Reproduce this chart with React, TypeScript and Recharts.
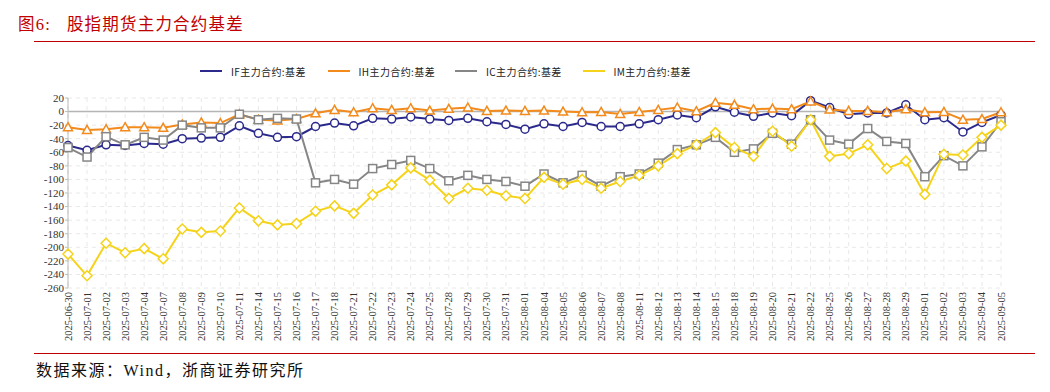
import React from "react";
import {
  LineChart,
  Line,
  XAxis,
  YAxis,
  CartesianGrid,
  ReferenceLine,
} from "recharts";

const dates = [
  "2025-06-30", "2025-07-01", "2025-07-02", "2025-07-03", "2025-07-04", "2025-07-07", "2025-07-08",
  "2025-07-09", "2025-07-10", "2025-07-11", "2025-07-14", "2025-07-15", "2025-07-16", "2025-07-17",
  "2025-07-18", "2025-07-21", "2025-07-22", "2025-07-23", "2025-07-24", "2025-07-25", "2025-07-28",
  "2025-07-29", "2025-07-30", "2025-07-31", "2025-08-01", "2025-08-04", "2025-08-05", "2025-08-06",
  "2025-08-07", "2025-08-08", "2025-08-11", "2025-08-12", "2025-08-13", "2025-08-14", "2025-08-15",
  "2025-08-18", "2025-08-19", "2025-08-20", "2025-08-21", "2025-08-22", "2025-08-25", "2025-08-26",
  "2025-08-27", "2025-08-28", "2025-08-29", "2025-09-01", "2025-09-02", "2025-09-03", "2025-09-04",
  "2025-09-05",
];

const ifBasis = [
  -50, -57, -49, -50, -47, -48, -40, -39, -38, -21, -32, -38, -37, -22, -17, -21,
  -10, -11, -8, -11, -13, -10, -15, -19, -26, -18, -22, -16, -22, -22, -18, -12, -5,
  -9, 7, -1, -7, -2, -6, 16, 6, -4, -2, -2, 10, -12, -9, -30, -16, -5,
];

const ihBasis = [
  -23, -27, -26, -23, -23, -24, -19, -16, -17, -4, -12, -13, -11, -2.5, 2.5, -1,
  5, 2.5, 5, 1.5, 4, 6, 1, 1.5, 1, 1.5, 0, -1, -0.5, -3.5, -0.5, 2.5, 6,
  0.5, 13, 10, 3.5, 4.4, 3.5, 15, 3, 1, 1, -1, 3.5, -1, -0.5, -12, -11, -1,
];

const icBasis = [
  -53, -67, -37, -49, -38, -42, -20, -24, -24, -4, -12, -10, -11, -105, -100, -107,
  -84, -78, -72, -84, -102, -94, -100, -103, -110, -92, -105, -94, -110, -96, -92, -76, -56, -49,
  -38, -60, -55, -32, -48, -12, -42, -48, -25, -44, -47, -96, -65, -80, -52, -15,
];

const imBasis = [
  -210, -242, -194, -208, -202, -217, -173, -178, -176, -142, -161, -167, -165, -147, -139, -150,
  -123, -108, -83, -101, -128, -113, -116, -124, -128, -97, -107, -100, -113, -103, -94, -80, -62, -49,
  -31, -53, -66, -29, -51, -12, -66, -62, -49, -84, -73, -122, -63, -64, -38, -20,
];

const yTicks = [20, 0, -20, -40, -60, -80, -100, -120, -140, -160, -180, -200, -220, -240, -260];

const seriesNames = ["IF主力合约:基差", "IH主力合约:基差", "IC主力合约:基差", "IM主力合约:基差"];
const colors = ["#2b2a8c", "#f28a1c", "#868686", "#f5d31a"];

const data = dates.map((d, i) => ({
  date: d,
  IF: ifBasis[i],
  IH: ihBasis[i],
  IC: icBasis[i],
  IM: imBasis[i],
}));

const serif = "'Liberation Serif', 'Noto Sans CJK SC', serif";
const cjk = "'Noto Sans CJK SC', sans-serif";

// marker shapes
const makeDot = (shape: string, color: string) => (props: any) => {
  const { cx, cy, index } = props;
  if (cx == null || cy == null) return <g key={index} />;
  const common = { fill: "#fff", stroke: color, strokeWidth: 1.5 };
  if (shape === "circle") return <circle key={index} cx={cx} cy={cy} r={4} {...common} />;
  if (shape === "square") return <rect key={index} x={cx - 4} y={cy - 4} width={8} height={8} {...common} />;
  if (shape === "triangle")
    return <polygon key={index} points={`${cx},${cy - 4.5} ${cx + 4.5},${cy + 3.5} ${cx - 4.5},${cy + 3.5}`} {...common} />;
  return <polygon key={index} points={`${cx},${cy - 5} ${cx + 5},${cy} ${cx},${cy + 5} ${cx - 5},${cy}`} {...common} />;
};

const DateTick = (props: any) => {
  const { x, y, payload } = props;
  return (
    <text
      x={x}
      y={y}
      transform={`rotate(-90 ${x} ${y})`}
      textAnchor="end"
      dominantBaseline="central"
      fontFamily={serif}
      fontSize={10.5}
      fill="#333"
    >
      {payload.value}
    </text>
  );
};

const Legend = () => (
  <>
    {seriesNames.map((name, i) => (
      <div
        key={name}
        style={{
          position: "absolute",
          left: 200 + i * 127.5,
          top: 63,
          height: 16,
          display: "flex",
          alignItems: "center",
          whiteSpace: "nowrap",
        }}
      >
        <div style={{ width: 22, height: 2, background: colors[i], marginRight: 9 }} />
        <span style={{ fontFamily: cjk, fontSize: 10, letterSpacing: 0.4, color: "#222" }}>{name}</span>
      </div>
    ))}
  </>
);

export default function App() {
  return (
    <div style={{ position: "absolute", left: 0, top: 0, width: 1050, height: 392, background: "#fff", overflow: "hidden" }}>
      <div
        style={{
          position: "absolute",
          left: 18,
          top: 11,
          fontFamily: serif,
          fontSize: 16.5,
          color: "#c00000",
          whiteSpace: "nowrap",
          letterSpacing: 1.2,
        }}
      >
        图6:&nbsp;&nbsp;&nbsp;股指期货主力合约基差
      </div>
      <div style={{ position: "absolute", left: 34, top: 41, width: 1001, height: 1, background: "#c00000" }} />
      <Legend />
      <div style={{ position: "absolute", left: 0, top: 0 }}>
        <LineChart width={1050} height={392} data={data} margin={{ top: 98, right: 49, left: 28, bottom: 44 }}>
          <CartesianGrid stroke="#e8e8e8" strokeDasharray="4 4" />
          <XAxis
            dataKey="date"
            interval={0}
            tick={<DateTick />}
            tickLine={false}
            axisLine={false}
            height={60}
            tickSize={2}
            tickMargin={2}
          />
          <YAxis
            domain={[-260, 20]}
            ticks={yTicks}
            interval={0}
            width={40}
            axisLine={{ stroke: "#bdbdbd" }}
            tickLine={{ stroke: "#bdbdbd" }}
            tickSize={3}
            tickMargin={1}
            tick={{ fontFamily: serif, fontSize: 11, fill: "#333" }}
          />
          <ReferenceLine y={0} stroke="#b5b5b5" strokeWidth={1.5} />
          <Line dataKey="IF" stroke={colors[0]} strokeWidth={2} dot={makeDot("circle", colors[0])} isAnimationActive={false} />
          <Line dataKey="IH" stroke={colors[1]} strokeWidth={2} dot={makeDot("triangle", colors[1])} isAnimationActive={false} />
          <Line dataKey="IC" stroke={colors[2]} strokeWidth={2} dot={makeDot("square", colors[2])} isAnimationActive={false} />
          <Line dataKey="IM" stroke={colors[3]} strokeWidth={2} dot={makeDot("diamond", colors[3])} isAnimationActive={false} />
        </LineChart>
      </div>
      <div style={{ position: "absolute", left: 34, top: 353, width: 1001, height: 1, background: "#c00000" }} />
      <div
        style={{
          position: "absolute",
          left: 36,
          top: 357,
          fontFamily: serif,
          fontSize: 16,
          color: "#111",
          whiteSpace: "nowrap",
          letterSpacing: 1.5,
        }}
      >
        数据来源：Wind，浙商证券研究所
      </div>
    </div>
  );
}
